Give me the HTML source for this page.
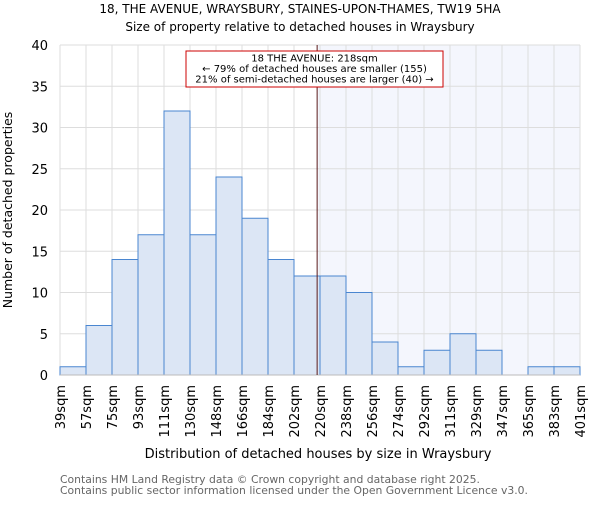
<!DOCTYPE html>
<html><head><meta charset="utf-8"><style>
body{margin:0;background:#fff}
svg{font-family:"DejaVu Sans","Liberation Sans",sans-serif}
</style></head><body>
<svg id="c" width="600" height="500" xmlns="http://www.w3.org/2000/svg">
<text x="300" y="13" font-size="12" text-anchor="middle">18, THE AVENUE, WRAYSBURY, STAINES-UPON-THAMES, TW19 5HA</text>
<text x="300" y="31" font-size="12" text-anchor="middle">Size of property relative to detached houses in Wraysbury</text>
<text x="318" y="458" font-size="13" text-anchor="middle">Distribution of detached houses by size in Wraysbury</text>
<text transform="translate(12,210) rotate(-90)" font-size="12.5" text-anchor="middle">Number of detached properties</text>
<text x="60" y="483" font-size="10.8" fill="#666">Contains HM Land Registry data © Crown copyright and database right 2025.</text>
<text x="60" y="494" font-size="10.8" fill="#666">Contains public sector information licensed under the Open Government Licence v3.0.</text>
</svg>
<script>
const labels=["39sqm","57sqm","75sqm","93sqm","111sqm","130sqm","148sqm","166sqm","184sqm","202sqm","220sqm","238sqm","256sqm","274sqm","292sqm","311sqm","329sqm","347sqm","365sqm","383sqm","401sqm"];
const counts=[1,6,14,17,32,17,24,19,14,12,12,10,4,1,3,5,3,0,1,1];
const yTicks=[0,5,10,15,20,25,30,35,40];
const markerValue=218;
const binStart=39, binWidth=18.1;
const svg=document.getElementById('c'),NS='http://www.w3.org/2000/svg';
const L=60,R=580,T=45,B=375,yMax=40;
const y=v=>B-(v/yMax)*(B-T);
const xi=i=>L+i*(R-L)/counts.length;
const xv=v=>L+(v-binStart)/binWidth*(R-L)/counts.length;
function mk(t,a){const e=document.createElementNS(NS,t);for(const k in a)e.setAttribute(k,a[k]);svg.appendChild(e);return e;}
let e;
e=mk('rect',{x:xv(markerValue),y:T,width:R-xv(markerValue),height:B-T,fill:'#f4f6fd'});


yTicks.forEach(t=>{
 e=mk('line',{x1:L,x2:R,y1:y(t),y2:y(t),stroke:'#ddd'});
 
 
 e=mk('text',{x:L-12,y:y(t)+5,'font-size':13,'text-anchor':'end'});e.textContent=t;
 
 
});
labels.forEach((l,i)=>{
 e=mk('line',{x1:xi(i),x2:xi(i),y1:T,y2:B,stroke:'#ddd'});
 
 
});
counts.forEach((c,i)=>{
 if(c<=0)return;
 e=mk('rect',{x:xi(i),y:y(c),width:xi(i+1)-xi(i),height:B-y(c),fill:'#dce6f5',stroke:'#4a86d0','stroke-width':1});
 
 
});
e=mk('line',{x1:L,x2:R,y1:B,y2:B,stroke:'#bbb'});


labels.forEach((l,i)=>{
 e=mk('text',{transform:`translate(${xi(i)+5},${B+10}) rotate(-90)`,'font-size':13,'text-anchor':'end'});e.textContent=l;
 
 
});
e=mk('line',{x1:xv(markerValue),x2:xv(markerValue),y1:T,y2:B,stroke:'#5a1a1a','stroke-width':1});


e=mk('rect',{x:186,y:51,width:257,height:36,fill:'#fff',stroke:'#c00','stroke-width':1});


["18 THE AVENUE: 218sqm","← 79% of detached houses are smaller (155)","21% of semi-detached houses are larger (40) →"].forEach((s,i)=>{
 e=mk('text',{x:314.5,y:61.5+i*10.5,'font-size':10,'text-anchor':'middle'});e.textContent=s;
 
 
});
</script>
</body></html>
